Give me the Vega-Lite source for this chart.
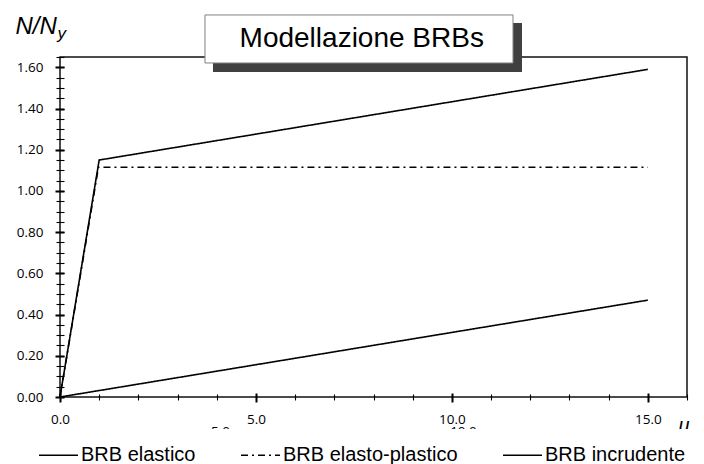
{
  "$schema": "https://vega.github.io/schema/vega-lite/v6.json",
  "width": 627,
  "height": 340,
  "autosize": "none",
  "padding": {"left": 60, "top": 57, "right": 17, "bottom": 67},
  "background": "white",
  "config": {
    "view": {"stroke": "#111111", "strokeWidth": 1.5},
    "font": "Liberation Sans"
  },
  "layer": [
    {
      "data": {
        "values": [
          {"series": "BRB elastico", "mu": 0, "n": 0},
          {"series": "BRB elastico", "mu": 15, "n": 0.47},
          {"series": "BRB elasto-plastico", "mu": 0, "n": 0},
          {"series": "BRB elasto-plastico", "mu": 0.98, "n": 1.115},
          {"series": "BRB elasto-plastico", "mu": 15, "n": 1.115},
          {"series": "BRB incrudente", "mu": 0, "n": 0},
          {"series": "BRB incrudente", "mu": 1.0, "n": 1.15},
          {"series": "BRB incrudente", "mu": 15, "n": 1.59}
        ]
      },
      "mark": {"type": "line", "color": "black", "strokeWidth": 1.6},
      "encoding": {
        "x": {
          "field": "mu",
          "type": "quantitative",
          "scale": {"domain": [0, 16], "nice": false, "zero": true},
          "axis": {
            "orient": "bottom",
            "values": [0, 5, 10, 15],
            "tickCount": 40,
            "format": ".1f",
            "offset": -4,
            "tickSize": 9,
            "tickColor": "black",
            "tickWidth": 2,
            "domain": false,
            "grid": false,
            "labelFont": "Open Sans",
            "labelFontSize": 13.5,
            "labelColor": "black",
            "labelPadding": 10,
            "labelOverlap": false,
            "labelFlush": false,
            "labelBound": false,
            "title": "μ",
            "titleX": 618,
            "titleY": 38,
            "titleAlign": "left",
            "titleBaseline": "alphabetic",
            "titleFont": "Liberation Sans",
            "titleFontSize": 20,
            "titleFontStyle": "italic",
            "titleFontWeight": "normal",
            "titleColor": "black",
            "zindex": 0
          }
        },
        "y": {
          "field": "n",
          "type": "quantitative",
          "scale": {"domain": [0, 1.65], "nice": false, "zero": true},
          "axis": {
            "orient": "left",
            "values": [0, 0.2, 0.4, 0.6, 0.8, 1, 1.2, 1.4, 1.6],
            "tickCount": 40,
            "format": ".2f",
            "offset": -4,
            "tickSize": 9,
            "tickColor": "black",
            "tickWidth": 2,
            "domain": false,
            "grid": false,
            "labelFont": "Open Sans",
            "labelFontSize": 13.5,
            "labelColor": "black",
            "labelPadding": 12,
            "labelOverlap": false,
            "labelFlush": false,
            "labelBound": false,
            "title": "N/N",
            "titleAngle": 0,
            "titleX": -49,
            "titleY": -24,
            "titleAlign": "left",
            "titleBaseline": "alphabetic",
            "titleFont": "Liberation Sans",
            "titleFontSize": 24,
            "titleFontStyle": "italic",
            "titleFontWeight": "normal",
            "titleColor": "black",
            "zindex": 0
          }
        },
        "strokeDash": {
          "field": "series",
          "type": "nominal",
          "scale": {
            "domain": ["BRB elastico", "BRB elasto-plastico", "BRB incrudente"],
            "range": [[1, 0], [7, 4, 2, 4], [1, 0]]
          },
          "legend": {
            "orient": "none",
            "legendX": -27.5,
            "legendY": 372,
            "direction": "horizontal",
            "columns": 3,
            "title": null,
            "fillColor": "white",
            "padding": 5.5,
            "symbolType": "stroke",
            "symbolSize": 1521,
            "symbolStrokeWidth": 1.6,
            "symbolStrokeColor": "black",
            "labelFont": "Liberation Sans",
            "labelFontSize": 20,
            "labelColor": "black",
            "labelLimit": 400,
            "columnPadding": 41,
            "labelOffset": 2
          }
        }
      }
    },
    {
      "data": {"values": [{}]},
      "mark": {"type": "rect", "color": "#404040"},
      "encoding": {
        "x": {"datum": 3.904, "type": "quantitative", "scale": {"domain": [0, 16], "nice": false, "zero": false}, "axis": null},
        "x2": {"datum": 11.789},
        "y": {"datum": 1.577, "type": "quantitative", "scale": {"domain": [0, 1.65], "nice": false, "zero": false}, "axis": null},
        "y2": {"datum": 1.815}
      }
    },
    {
      "data": {"values": [{}]},
      "mark": {"type": "rect", "fill": "white", "stroke": "#808080", "strokeWidth": 1},
      "encoding": {
        "x": {
          "datum": 3.70,
          "type": "quantitative",
          "scale": {"domain": [0, 16], "nice": false, "zero": false},
          "axis": {
            "orient": "bottom",
            "values": [0, 1, 2, 3, 4, 5, 6, 7, 8, 9, 10, 11, 12, 13, 14, 15, 16],
            "tickCount": 40,
            "labels": false,
            "offset": -3,
            "tickSize": 6,
            "tickColor": "black",
            "tickWidth": 1.1,
            "domain": false,
            "grid": false,
            "title": null,
            "zindex": 0
          }
        },
        "x2": {"datum": 11.56},
        "y": {
          "datum": 1.621,
          "type": "quantitative",
          "scale": {"domain": [0, 1.65], "nice": false, "zero": false},
          "axis": {
            "orient": "left",
            "values": [0, 0.05, 0.1, 0.15, 0.2, 0.25, 0.3, 0.35, 0.4, 0.45, 0.5, 0.55, 0.6, 0.65, 0.7, 0.75, 0.8, 0.85, 0.9, 0.95, 1, 1.05, 1.1, 1.15, 1.2, 1.25, 1.3, 1.35, 1.4, 1.45, 1.5, 1.55, 1.6, 1.65],
            "tickCount": 40,
            "labels": false,
            "offset": -4,
            "tickSize": 8,
            "tickColor": "black",
            "tickWidth": 1.1,
            "domain": false,
            "grid": false,
            "title": null,
            "zindex": 0
          }
        },
        "y2": {"datum": 1.854}
      }
    },
    {
      "data": {"values": [{}]},
      "mark": {"type": "text", "text": "Modellazione BRBs", "font": "Liberation Sans", "fontSize": 28, "color": "black", "align": "center", "baseline": "middle"},
      "encoding": {
        "x": {"datum": 7.70, "type": "quantitative", "scale": {"domain": [0, 16], "nice": false, "zero": false}, "axis": null},
        "y": {"datum": 1.739, "type": "quantitative", "scale": {"domain": [0, 1.65], "nice": false, "zero": false}, "axis": null}
      }
    },
    {
      "data": {"values": [{}]},
      "mark": {"type": "point", "opacity": 0},
      "encoding": {
        "x": {
          "datum": 5,
          "type": "quantitative",
          "scale": {"domain": [1.708, 14.609], "nice": false, "zero": false},
          "axis": {
            "orient": "bottom",
            "values": [5, 10, 15],
            "tickCount": 40,
            "format": ".1f",
            "ticks": false,
            "tickSize": 0,
            "domain": false,
            "grid": false,
            "labelFont": "Open Sans",
            "labelFontSize": 13.5,
            "labelColor": "black",
            "labelPadding": 27,
            "labelOverlap": false,
            "labelFlush": false,
            "labelBound": false,
            "title": null,
            "zindex": 0
          }
        },
        "y": {
          "datum": 0.5,
          "type": "quantitative",
          "scale": {"domain": [0, 1], "nice": false},
          "axis": {
            "orient": "left",
            "labels": false,
            "ticks": false,
            "domain": false,
            "grid": false,
            "title": "y",
            "titleAngle": 0,
            "titleX": -3,
            "titleY": -18.5,
            "titleAlign": "left",
            "titleBaseline": "alphabetic",
            "titleFont": "Liberation Sans",
            "titleFontSize": 17,
            "titleFontStyle": "italic",
            "titleFontWeight": "normal",
            "titleColor": "black"
          }
        }
      }
    }
  ],
  "resolve": {
    "scale": {"x": "independent", "y": "independent"},
    "axis": {"x": "independent", "y": "independent"}
  }
}
